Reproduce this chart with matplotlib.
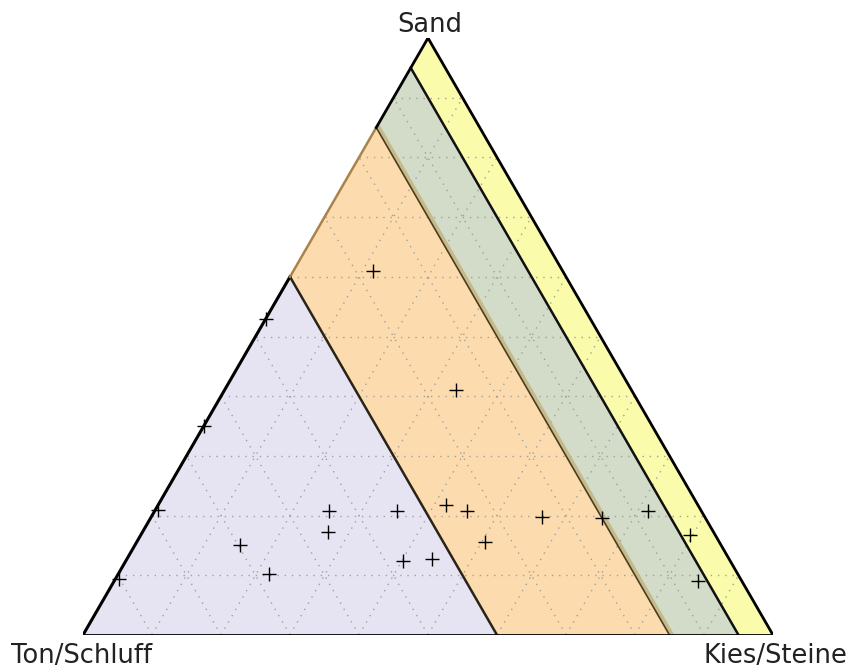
import numpy as np
import matplotlib
matplotlib.use("Agg")
import matplotlib.pyplot as plt
from matplotlib.patches import Polygon
from matplotlib.transforms import offset_copy

# Corner names (bottom-left, bottom-right, top)
corner_labels = ["Ton/Schluff", "Kies/Steine", "Sand"]

# Soil classes as bands of Ton/Schluff share (upper, lower limit)
ton_limits = [1.00, 0.40, 0.15, 0.05, 0.00]
band_colors = ["#e6e4f2", "#fcdcae", "#d2dcc8", "#fbfbac"]

# Samples: shares of Sand and Kies/Steine (rest is Ton/Schluff)
sand = [0.61, 0.53, 0.35, 0.41, 0.21, 0.093, 0.15, 0.103, 0.208, 0.172,
        0.207, 0.124, 0.128, 0.217, 0.208, 0.156, 0.197, 0.196, 0.207,
        0.168, 0.091]
kies = [0.115, 0.0, 0.0, 0.336, 0.003, 0.005, 0.152, 0.218, 0.253, 0.269,
        0.351, 0.402, 0.442, 0.418, 0.453, 0.505, 0.566, 0.654, 0.716,
        0.796, 0.846]

H = np.sqrt(3) / 2


def xy(k, s):
    k = np.asarray(k, dtype=float)
    s = np.asarray(s, dtype=float)
    return k + s / 2, s * H


fig = plt.figure(figsize=(8.51, 6.72), dpi=100)
ax = fig.add_axes([83 / 851, 37 / 672, 690 / 851, 597 / 672])
ax.set_xlim(0, 1)
ax.set_ylim(0, H)
ax.axis("off")

# filled class bands
for (t_hi, t_lo), col in zip(zip(ton_limits[:-1], ton_limits[1:]), band_colors):
    ks = [1 - t_hi, 1 - t_lo, 0, 0]
    ss = [0, 0, 1 - t_lo, 1 - t_hi]
    px, py = xy(ks, ss)
    ax.add_patch(Polygon(np.column_stack([px, py]), closed=True,
                         facecolor=col, edgecolor="none", zorder=1))

# dotted grid every 10 %
grid_kw = dict(color="#a0a0a0", lw=1.0, linestyle=(0, (1, 4.2)), zorder=2)
for v in np.arange(0.1, 1.0, 0.1):
    ax.plot(*xy([0, 1 - v], [v, v]), **grid_kw)
    ax.plot(*xy([v, v], [0, 1 - v]), **grid_kw)
    ax.plot(*xy([1 - v, 0], [0, 1 - v]), **grid_kw)

# band boundaries
def ton_line(t):
    return xy([1 - t, 0], [0, 1 - t])

ax.plot(*ton_line(ton_limits[1]), color="#2a2418", lw=1.8, zorder=3)
shift = offset_copy(ax.transData, fig=fig, x=2.5, y=0, units="dots")
ax.plot(*ton_line(ton_limits[2]), color="#c6b98a", lw=3.0, zorder=3,
        transform=shift)
ax.plot(*ton_line(ton_limits[2]), color="#4a3e20", lw=1.2, zorder=3)
ax.plot(*ton_line(ton_limits[3]), color="#111111", lw=1.8, zorder=3)

# outer frame
ax.plot(*xy([0, 1], [0, 0]), color="black", lw=2.0, zorder=4)
ax.plot(*xy([1, 0], [0, 1]), color="black", lw=2.0, zorder=4)
s_lav, s_or = 1 - ton_limits[1], 1 - ton_limits[2]
ax.plot(*xy([0, 0], [0, s_lav]), color="black", lw=2.2, zorder=4)
ax.plot(*xy([0, 0], [s_lav, s_or]), color="#a8844c", lw=1.8, zorder=4)
ax.plot(*xy([0, 0], [s_or, 1]), color="black", lw=2.0, zorder=4)

# samples
px, py = xy(kies, sand)
ax.plot(px, py, linestyle="none", marker="+", color="black",
        markersize=10, mew=1.0, zorder=5, clip_on=False)

# corner labels
fkw = dict(fontsize=18.5, color="#222222")
fig.text(82 / 851, 1 - 663 / 672, corner_labels[0], ha="center",
         va="baseline", **fkw)
fig.text(775 / 851, 1 - 663 / 672, corner_labels[1], ha="center",
         va="baseline", **fkw)
fig.text(430 / 851, 1 - 32 / 672, corner_labels[2], ha="center",
         va="baseline", **fkw)

fig.savefig("out.png", dpi=100)
